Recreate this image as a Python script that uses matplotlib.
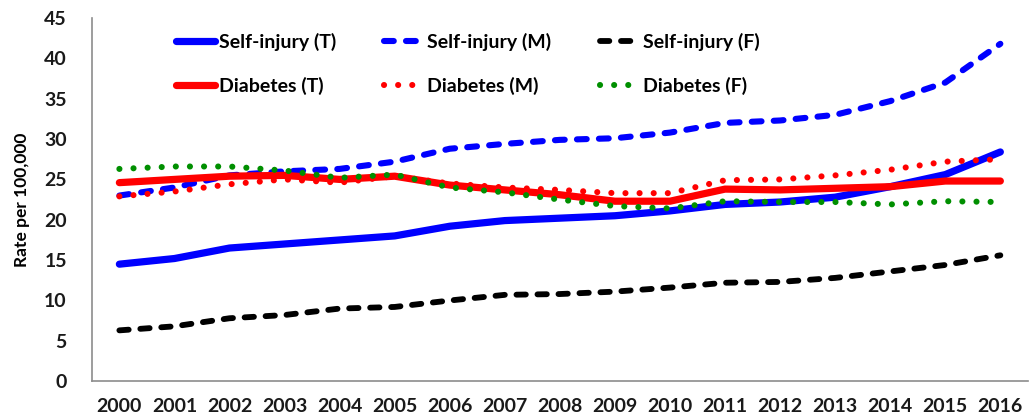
import matplotlib
matplotlib.use("Agg")
from matplotlib import pyplot as plt

# values
YEARS = [str(y) for y in range(2000, 2017)]

SELF_T = [14.5, 15.2, 16.5, 17.0, 17.5, 18.0, 19.2, 19.9, 20.2, 20.5, 21.1,
          21.9, 22.2, 22.8, 24.1, 25.6, 28.4]
SELF_M = [23.0, 24.0, 25.5, 26.0, 26.3, 27.2, 28.8, 29.4, 29.9, 30.1, 30.8,
          32.0, 32.3, 33.0, 34.7, 37.0, 41.8]
SELF_F = [6.3, 6.8, 7.8, 8.2, 9.0, 9.2, 10.0, 10.7, 10.8, 11.1, 11.6,
          12.2, 12.3, 12.8, 13.6, 14.4, 15.6]
DIAB_T = [24.6, 25.0, 25.4, 25.5, 25.0, 25.4, 24.3, 23.7, 23.1, 22.3, 22.3,
          23.8, 23.7, 23.9, 24.1, 24.8, 24.8]
DIAB_M = [22.9, 23.5, 24.4, 25.0, 24.6, 25.4, 24.5, 24.0, 23.7, 23.3, 23.3,
          24.9, 25.0, 25.5, 26.2, 27.2, 27.5]
DIAB_F = [26.3, 26.6, 26.6, 26.1, 25.2, 25.6, 24.0, 23.4, 22.5, 21.7, 21.4,
          22.3, 22.2, 22.2, 21.9, 22.3, 22.2]

plt.rcParams['font.family'] = ['Lato', 'DejaVu Sans']
plt.rcParams['font.weight'] = 'bold'

fig = plt.figure(figsize=(10.32, 4.18), dpi=100)
ax = fig.add_axes([0.089, 0.088, 0.907, 0.869])

x = list(range(len(YEARS)))
dash = (0, (1.6, 2.0))
dot = (0, (0.01, 2.3))

ax.plot(x, SELF_T, color='#0000ff', lw=5.2, solid_capstyle='round',
        label='Self-injury (T)')
ax.plot(x, SELF_M, color='#0000ff', lw=4.4, linestyle=dash,
        dash_capstyle='round', label='Self-injury (M)')
ax.plot(x, SELF_F, color='black', lw=4.2, linestyle=dash,
        dash_capstyle='round', label='Self-injury (F)')
ax.plot(x, DIAB_T, color='#ff0000', lw=5.2, solid_capstyle='round',
        label='Diabetes (T)')
ax.plot(x, DIAB_M, color='#ff0000', lw=4.4, linestyle=dot,
        dash_capstyle='round', label='Diabetes (M)')
ax.plot(x, DIAB_F, color='#008f00', lw=4.4, linestyle=dot,
        dash_capstyle='round', label='Diabetes (F)')

ax.set_xlim(-0.5, len(YEARS) - 0.5)
ax.set_ylim(0, 45)
ax.set_yticks(range(0, 46, 5))
ax.set_xticks(x)
ax.set_xticklabels(YEARS)
ax.tick_params(length=0, labelsize=14, colors='#1a1a1a')
ax.tick_params(axis='x', pad=12)
ax.tick_params(axis='y', pad=18)

for s in ['top', 'right']:
    ax.spines[s].set_visible(False)
for s in ['left', 'bottom']:
    ax.spines[s].set_color('#8c8c8c')
    ax.spines[s].set_linewidth(1.2)

ax.set_ylabel('Rate per 100,000', fontsize=12.5, fontweight='bold', labelpad=10)

# legend order: row 1 self-injury, row 2 diabetes
handles, labels = ax.get_legend_handles_labels()
order = [0, 3, 1, 4, 2, 5]
ax.legend([handles[i] for i in order], [labels[i] for i in order],
          ncol=3, frameon=False, loc='upper left',
          bbox_to_anchor=(0.071, 1.008), fontsize=14, handlelength=2.0,
          handletextpad=0.2, columnspacing=2.5, labelspacing=1.35)

plt.savefig('out.png', dpi=100)
